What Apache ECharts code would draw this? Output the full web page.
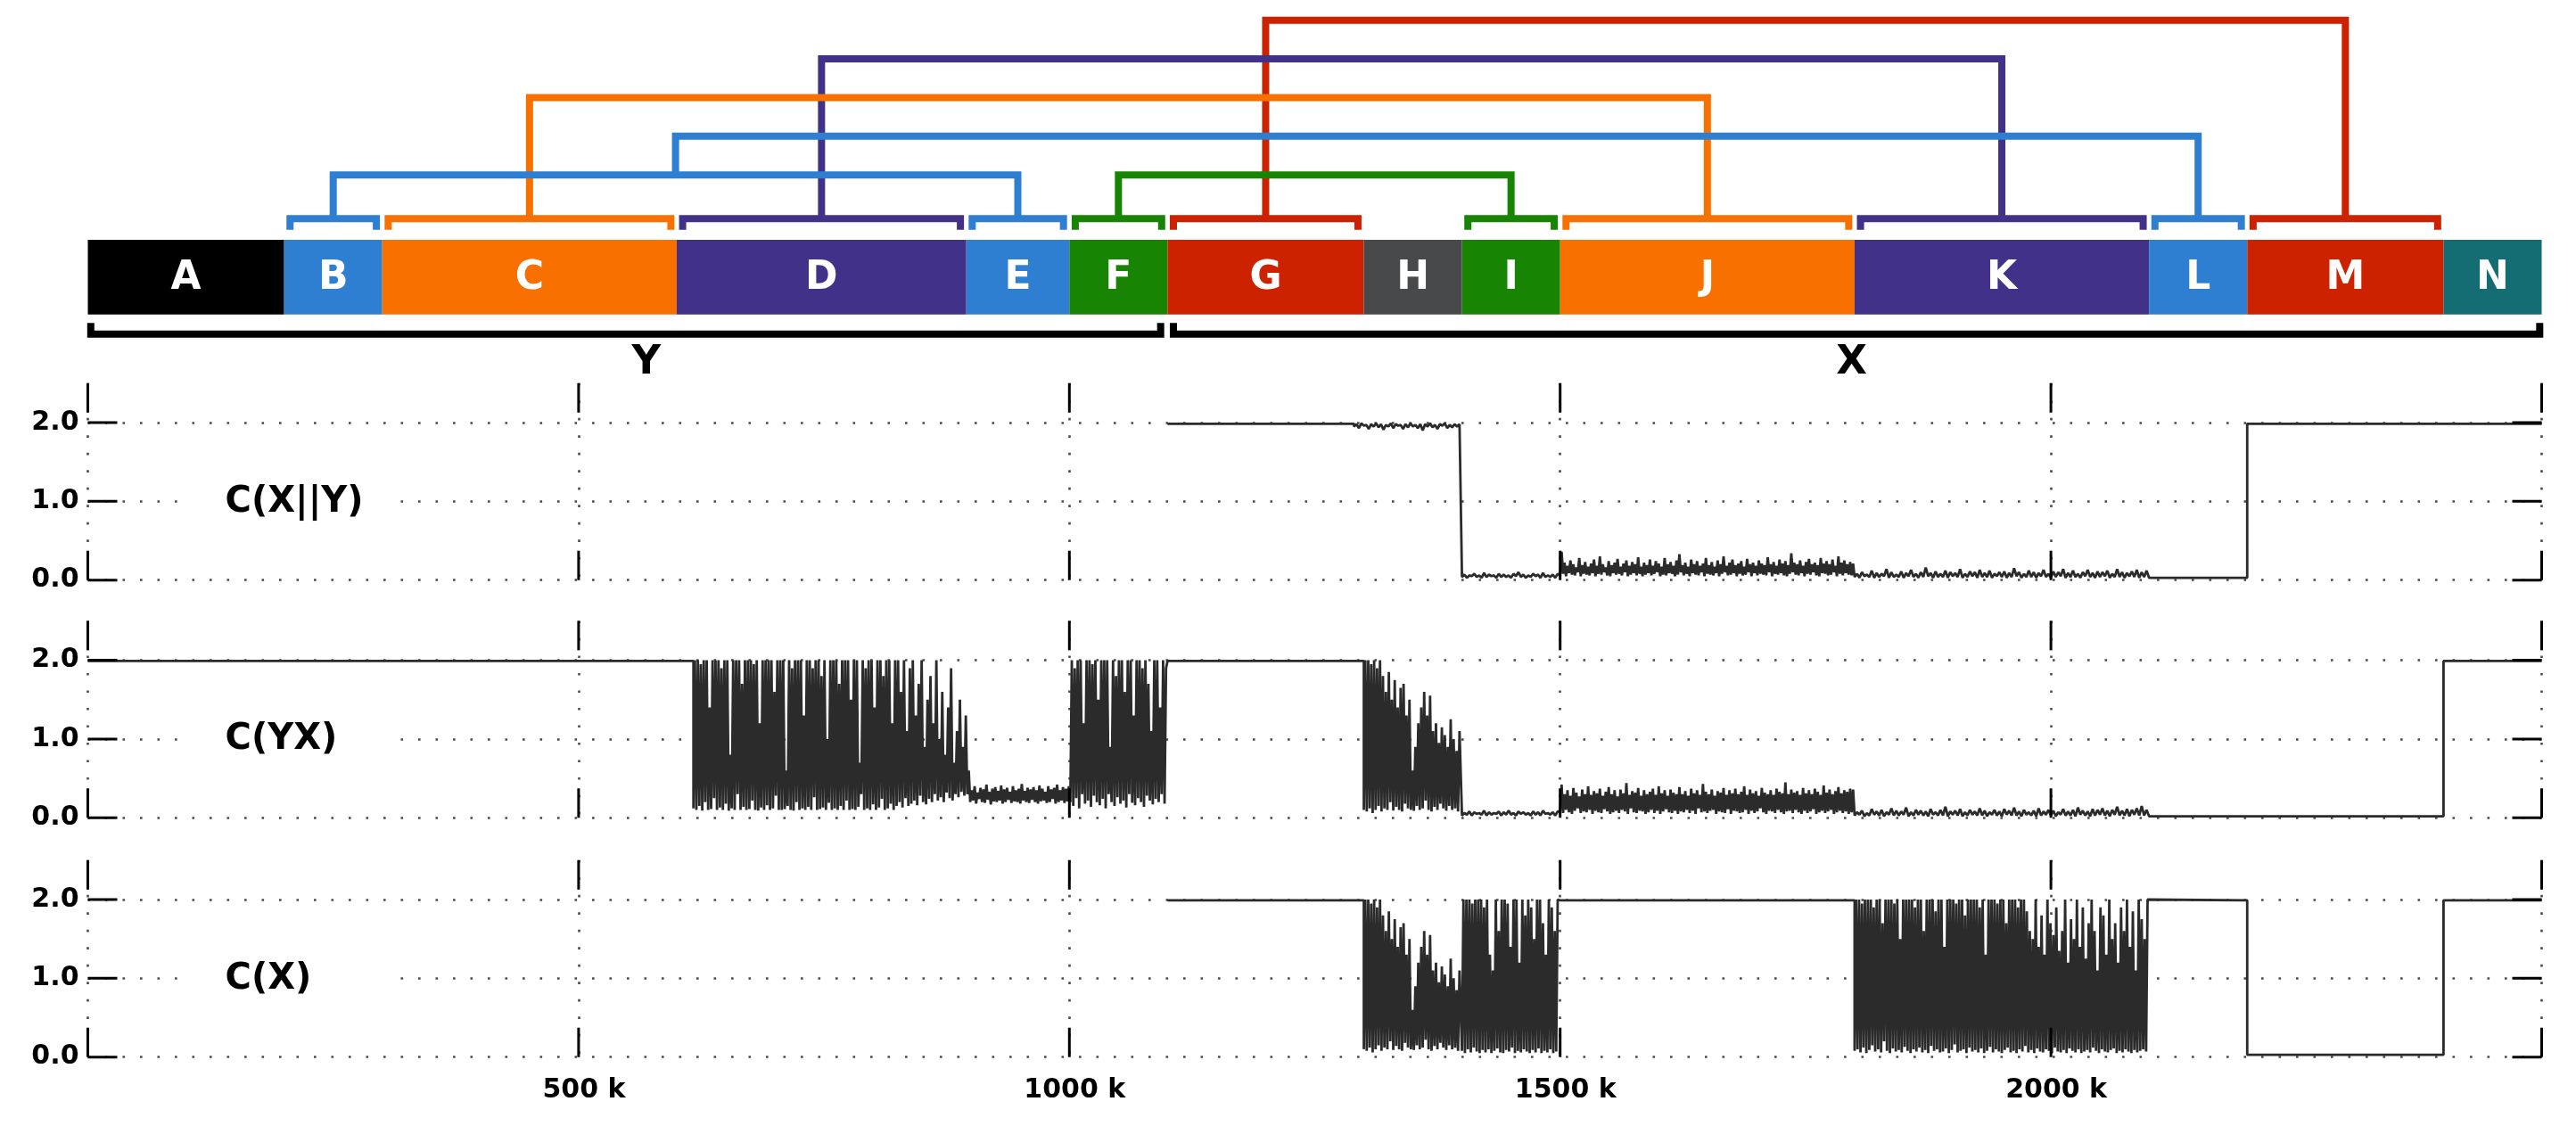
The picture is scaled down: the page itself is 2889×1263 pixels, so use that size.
<!DOCTYPE html>
<html><head><meta charset="utf-8">
<script src="https://cdn.jsdelivr.net/npm/echarts@6/dist/echarts.min.js"></script>
<style>html,body{margin:0;padding:0;background:#fff}#c{width:2889px;height:1263px}</style>
</head><body><div id="c"></div>
<script>
// ---------------- data ----------------
const xTicks = [0, 500, 1000, 1500, 2000, 2500];           // k
const yTicks = [0, 1, 2];
const segNames  = ['A','B','C','D','E','F','G','H','I','J','K','L','M','N'];
const segBounds = [0,200,300,600,895,1000,1100,1300,1400,1500,1800,2100,2200,2400,2500];
const segColors = ['#000000','#2e7fd2','#f87000','#413189','#2e7fd2','#178503','#cc2200',
                   '#48494b','#178503','#f87000','#413189','#2e7fd2','#cc2200','#136d73'];
const bracketed = ['B','C','D','E','F','G','I','J','K','L','M'];
// [left, right, level]
const links = [['B','E',1],['F','I',1],['BE','L',2],['C','J',3],['D','K',4],['G','M',5]];
const groupNames = ['Y','X'];
const groupSpans = [[3,1093],[1106,2498]];
const groupLabelAt = [569,1797];
const panelNames = ['C(X||Y)','C(YX)','C(X)'];

// C(X||Y)
const cxyG_hi = [1.98,1.99,1.97,1.98,1.99,1.98,1.97,1.99,1.98,1.97,1.98,1.99,1.97,1.98,1.98,1.99,1.97,1.98,1.99,1.97,1.98,1.98];
const cxyG_lo = [1.95,1.93,1.96,1.92,1.95,1.94,1.91,1.95,1.93,1.96,1.92,1.94,1.95,1.93,1.9,1.95,1.94,1.92,1.96,1.93,1.94,1.95];
const cxyI_hi = [0.07,0.06,0.08,0.06,0.09,0.07,0.06,0.08,0.07,0.06,0.08,0.1,0.07,0.06,0.08,0.07,0.09,0.06,0.07,0.08];
const cxyI_lo = [0.04,0.03,0.05,0.04,0.03,0.04,0.05,0.03,0.04,0.04,0.03,0.05,0.04,0.03,0.04,0.05,0.03,0.04,0.04,0.03];
const cxyJ_hi = [0.36,0.22,0.18,0.25,0.2,0.16,0.28,0.19,0.23,0.17,
  0.21,0.26,0.18,0.3,0.2,0.16,0.24,0.19,0.22,0.27,
  0.17,0.21,0.25,0.18,0.23,0.2,0.29,0.17,0.22,0.19,
  0.26,0.18,0.24,0.21,0.17,0.28,0.2,0.23,0.18,0.25,
  0.33,0.19,0.22,0.17,0.26,0.2,0.24,0.18,0.21,0.28,
  0.19,0.23,0.17,0.25,0.2,0.3,0.18,0.22,0.26,0.19,
  0.21,0.24,0.17,0.27,0.2,0.22,0.18,0.25,0.21,0.19,
  0.29,0.2,0.23,0.18,0.26,0.21,0.24,0.19,0.34,0.22,
  0.2,0.25,0.18,0.23,0.27,0.2,0.22,0.19,0.28,0.21,
  0.24,0.2,0.26,0.18,0.3,0.22,0.25,0.2,0.23,0.21];
const cxyJ_lo = [0.06,0.08,0.05,0.09,0.07,0.06,0.1,0.05,0.08,0.07,
  0.06,0.09,0.05,0.08,0.07,0.1,0.06,0.05,0.09,0.07,
  0.08,0.06,0.1,0.05,0.07,0.09,0.06,0.08,0.05,0.07,
  0.09,0.06,0.08,0.1,0.05,0.07,0.06,0.09,0.08,0.05,
  0.07,0.1,0.06,0.08,0.05,0.09,0.07,0.06,0.1,0.05,
  0.08,0.07,0.06,0.09,0.05,0.08,0.1,0.06,0.07,0.09,
  0.05,0.08,0.06,0.07,0.1,0.05,0.09,0.06,0.08,0.07,
  0.06,0.1,0.05,0.08,0.07,0.09,0.06,0.05,0.08,0.1,
  0.07,0.06,0.09,0.05,0.08,0.07,0.1,0.06,0.05,0.09,
  0.08,0.06,0.07,0.1,0.05,0.08,0.06,0.09,0.07,0.06];
const cxyK_hi = [0.08,0.1,0.07,0.12,0.09,0.08,0.14,0.1,0.07,0.11,
  0.09,0.13,0.08,0.1,0.16,0.09,0.11,0.08,0.12,0.1,
  0.09,0.14,0.08,0.11,0.1,0.13,0.09,0.12,0.08,0.1,
  0.11,0.09,0.15,0.1,0.08,0.12,0.1,0.09,0.13,0.08,
  0.11,0.1,0.14,0.09,0.12,0.08,0.1,0.13,0.09,0.11,
  0.1,0.12,0.08,0.14,0.1,0.09,0.11,0.13,0.1,0.12];
const cxyK_lo = [0.04,0.03,0.05,0.04,0.03,0.04,0.05,0.03,0.04,0.04,
  0.03,0.05,0.04,0.03,0.04,0.05,0.03,0.04,0.04,0.03,
  0.05,0.04,0.03,0.04,0.05,0.03,0.04,0.04,0.03,0.05,
  0.04,0.03,0.04,0.05,0.03,0.04,0.04,0.03,0.05,0.04,
  0.03,0.04,0.05,0.03,0.04,0.04,0.03,0.05,0.04,0.03,
  0.04,0.05,0.03,0.04,0.04,0.03,0.05,0.04,0.03,0.04];

// C(YX)
const cyxD_hi = [2,2,1.95,2,2,1.4,2,2,2,1.9,
  2,2,0.8,2,2,2,1.7,2,2,2,
  1.95,2,1.2,2,2,2,2,1.6,2,2,
  2,0.6,2,1.9,2,2,2,1.3,2,2,
  1.9,2,2,1.8,2,1,2,2,2,1.7,
  2,2,2,1.5,2,2,0.7,2,1.9,2,
  2,1.4,2,2,1.8,2,2,1.2,2,2,
  1.6,2,1.1,1.9,2,1.3,1.7,2,0.9,1.5,
  1.8,1.2,2,1,1.6,0.8,1.4,1.9,0.7,1.1,
  1.5,0.9,1.3,0.6];
const cyxD_lo = [0.12,0.1,0.15,0.09,0.2,0.1,0.11,0.25,0.1,0.13,
  0.1,0.18,0.09,0.12,0.1,0.3,0.1,0.14,0.1,0.11,
  0.22,0.1,0.09,0.13,0.1,0.16,0.1,0.12,0.28,0.1,
  0.1,0.11,0.15,0.1,0.09,0.2,0.1,0.12,0.1,0.14,
  0.1,0.26,0.1,0.11,0.13,0.1,0.19,0.1,0.12,0.1,
  0.15,0.1,0.22,0.1,0.11,0.1,0.14,0.3,0.1,0.12,
  0.1,0.17,0.1,0.13,0.24,0.1,0.12,0.18,0.1,0.15,
  0.2,0.13,0.25,0.15,0.18,0.22,0.16,0.28,0.2,0.17,
  0.24,0.2,0.3,0.22,0.26,0.2,0.32,0.25,0.22,0.3,
  0.26,0.33,0.28,0.3];
const cyxE_hi = [0.35,0.4,0.32,0.38,0.36,0.42,0.33,0.37,0.39,0.34,
  0.41,0.36,0.38,0.33,0.4,0.35,0.37,0.43,0.34,0.38,
  0.36,0.39,0.35,0.41,0.37,0.33,0.4,0.36,0.38,0.42,
  0.35,0.39,0.37,0.4];
const cyxE_lo = [0.2,0.22,0.18,0.24,0.2,0.19,0.23,0.17,0.21,0.2,
  0.22,0.18,0.2,0.23,0.19,0.21,0.2,0.18,0.22,0.2,
  0.19,0.23,0.2,0.18,0.21,0.22,0.19,0.2,0.24,0.18,
  0.2,0.22,0.19,0.21];
const cyxF_hi = [2,1.9,2,2,1.2,2,2,1.95,2,1.5, 2,2,2,0.9,2,1.8,2,2,1.6,2,
  2,1.3,2,2,1.9,2,1.7,1.1,2,2, 1.4,2,1.9];
const cyxF_lo = [0.2,0.15,0.25,0.12,0.3,0.18,0.22,0.14,0.28,0.2, 0.16,0.24,0.12,0.3,0.2,0.15,0.26,0.18,0.22,0.13,
  0.3,0.19,0.16,0.25,0.2,0.14,0.28,0.22,0.17,0.24, 0.2,0.3,0.18];
// shared shape of the 1300–1400 k stretch (C(YX) and C(X))
const xH_hi = [2,2,1.95,2,1.9,2,1.8,1.6,1.85,1.5, 1.75,1.4,1.65,1.7,1.3,1.5,0.6,0.9,1.2,1.4,
  1.6,1.3,1.55,1.1,1.2,0.95,1.15,1.05,0.9,1.25, 1.0,0.85,1.1];
const xH_lo = [0.1,0.08,0.12,0.06,0.1,0.15,0.08,0.12,0.1,0.2, 0.09,0.14,0.1,0.08,0.18,0.12,0.1,0.09,0.15,0.1,
  0.12,0.22,0.1,0.08,0.14,0.1,0.18,0.12,0.09,0.15, 0.1,0.12,0.08];
const cyxI_hi = [0.06,0.08,0.07,0.06,0.09,0.07,0.06,0.08,0.07,0.09,0.06,0.08,0.07,0.06,0.08,0.07,0.09,0.06,0.07,0.08];
const cyxI_lo = [0.03,0.04,0.03,0.05,0.04,0.03,0.04,0.05,0.03,0.04,0.04,0.03,0.05,0.04,0.03,0.04,0.03,0.05,0.04,0.03];
const cyxJ_hi = [0.42,0.3,0.35,0.28,0.38,0.32,0.27,0.36,0.3,0.4,
  0.29,0.34,0.31,0.37,0.28,0.33,0.39,0.3,0.35,0.27,
  0.36,0.31,0.44,0.29,0.34,0.32,0.38,0.28,0.35,0.3,
  0.33,0.37,0.29,0.4,0.31,0.35,0.28,0.36,0.32,0.3,
  0.39,0.3,0.34,0.28,0.37,0.31,0.35,0.29,0.43,0.33,
  0.3,0.36,0.28,0.34,0.32,0.38,0.29,0.35,0.31,0.37,
  0.3,0.33,0.4,0.29,0.36,0.31,0.34,0.28,0.38,0.32,
  0.3,0.35,0.29,0.37,0.33,0.31,0.45,0.3,0.36,0.32,
  0.34,0.29,0.38,0.31,0.35,0.3,0.37,0.33,0.29,0.41,
  0.32,0.36,0.3,0.34,0.39,0.31,0.35,0.33,0.37,0.36];
const cyxJ_lo = [0.08,0.06,0.1,0.07,0.05,0.09,0.12,0.06,0.08,0.07,
  0.1,0.05,0.09,0.07,0.06,0.11,0.08,0.05,0.07,0.09,
  0.06,0.1,0.08,0.05,0.12,0.07,0.06,0.09,0.08,0.05,
  0.07,0.1,0.06,0.09,0.05,0.08,0.11,0.07,0.06,0.09,
  0.05,0.08,0.07,0.1,0.06,0.09,0.05,0.12,0.07,0.08,
  0.06,0.09,0.1,0.05,0.08,0.07,0.06,0.11,0.05,0.09,
  0.08,0.06,0.07,0.1,0.05,0.09,0.06,0.08,0.12,0.07,
  0.05,0.09,0.08,0.06,0.1,0.07,0.05,0.08,0.09,0.06,
  0.1,0.07,0.05,0.09,0.06,0.08,0.11,0.05,0.07,0.09,
  0.06,0.08,0.1,0.05,0.07,0.09,0.06,0.08,0.05,0.07];
const cyxK_hi = [0.07,0.09,0.06,0.11,0.08,0.1,0.07,0.12,0.09,0.08,
  0.13,0.07,0.1,0.09,0.08,0.11,0.07,0.1,0.14,0.08,
  0.09,0.11,0.07,0.1,0.08,0.12,0.09,0.07,0.1,0.08,
  0.11,0.09,0.13,0.08,0.1,0.07,0.09,0.12,0.08,0.1,
  0.09,0.07,0.11,0.08,0.1,0.13,0.09,0.08,0.11,0.1,
  0.12,0.09,0.1,0.14,0.09,0.11,0.1,0.12,0.15,0.1];
const cyxK_lo = [0.03,0.04,0.02,0.03,0.04,0.03,0.02,0.04,0.03,0.03,
  0.04,0.02,0.03,0.04,0.03,0.02,0.04,0.03,0.03,0.02,
  0.04,0.03,0.02,0.03,0.04,0.03,0.03,0.02,0.04,0.03,
  0.02,0.04,0.03,0.03,0.02,0.04,0.03,0.02,0.03,0.04,
  0.03,0.02,0.04,0.03,0.03,0.02,0.04,0.03,0.02,0.03,
  0.04,0.03,0.02,0.04,0.03,0.03,0.02,0.04,0.03,0.03];

// C(X)
const cxI_hi = [2,2,2,1.95,2,2,2,1.9,2,1.3, 1.1,2,1.6,2,2,1.95,1.4,2,2,1.2,
  2,1.8,2,1.9,1.5,2,2,1.7,1.3,2, 1.9,1.6,2];
const cxI_lo = [0.08,0.05,0.1,0.06,0.12,0.07,0.05,0.09,0.06,0.1, 0.05,0.08,0.11,0.06,0.05,0.09,0.07,0.12,0.05,0.08,
  0.06,0.1,0.07,0.05,0.09,0.06,0.11,0.05,0.08,0.06, 0.1,0.05,0.07];
const cxK_hi = [2,2,1.95,2,2,2,1.9,2,2,1.7,
  2,2,2,1.95,2,1.5,2,2,2,2,
  1.9,2,2,1.6,2,2,2,1.85,2,2,
  1.4,2,2,2,1.95,2,2,1.8,2,2,
  2,2,1.9,2,1.3,2,2,2,1.95,2,
  2,1.7,2,2,2,1.9,2,2,1.85,1.6,
  1.5,2,1.4,1.8,1.3,2,1.7,1.55,1.9,1.35,
  1.6,2,1.2,1.75,1.5,2,1.4,1.9,1.25,1.7,
  2,1.6,1.1,1.9,1.8,1.3,2,1.5,1.7,1.2,
  1.9,1.6,2,1.4,1.85,1.1,2,1.75,1.5,2];
const cxK_lo = [0.08,0.1,0.06,0.12,0.05,0.09,0.15,0.07,0.1,0.06,
  0.2,0.08,0.05,0.11,0.07,0.09,0.06,0.13,0.08,0.05,
  0.1,0.07,0.12,0.06,0.09,0.05,0.14,0.08,0.1,0.06,
  0.07,0.11,0.05,0.09,0.16,0.06,0.08,0.1,0.05,0.12,
  0.07,0.09,0.06,0.11,0.05,0.08,0.13,0.06,0.1,0.07,
  0.05,0.09,0.12,0.06,0.08,0.05,0.1,0.07,0.14,0.06,
  0.09,0.05,0.11,0.07,0.06,0.1,0.08,0.05,0.12,0.07,
  0.06,0.09,0.05,0.11,0.08,0.06,0.1,0.05,0.07,0.09,
  0.06,0.12,0.08,0.05,0.1,0.07,0.06,0.09,0.11,0.05,
  0.08,0.06,0.1,0.07,0.05,0.09,0.06,0.08,0.1,0.07];

// pieces: ['flat', x0, x1, y] or ['noise', x0, step, peaks, troughs]
const CXY = [['flat',1100,1290,1.985],['noise',1290,5,cxyG_hi,cxyG_lo],['noise',1400,5,cxyI_hi,cxyI_lo],
  ['noise',1500,3,cxyJ_hi,cxyJ_lo],['noise',1800,5,cxyK_hi,cxyK_lo],['flat',2100,2200,0.03],['flat',2200,2500,1.985]];
const CYX = [['flat',0,617,1.99],['noise',617,3,cyxD_hi,cyxD_lo],['noise',899,3,cyxE_hi,cyxE_lo],
  ['noise',1001,3,cyxF_hi,cyxF_lo],['flat',1100,1300,1.99],['noise',1300,3,xH_hi,xH_lo],
  ['noise',1400,5,cyxI_hi,cyxI_lo],['noise',1500,3,cyxJ_hi,cyxJ_lo],['noise',1800,5,cyxK_hi,cyxK_lo],
  ['flat',2100,2400,0.02],['flat',2400,2500,1.99]];
const CX = [['flat',1100,1300,1.99],['noise',1300,3,xH_hi,xH_lo],['noise',1400,3,cxI_hi,cxI_lo],
  ['flat',1500,1800,1.99],['noise',1800,3,cxK_hi,cxK_lo],['flat',2100,2200,1.99],
  ['flat',2200,2400,0.03],['flat',2400,2500,1.99]];

// ---------------- layout / style ----------------
const FONT = '"DejaVu Sans", "Liberation Sans", sans-serif';
const GL = 98.5, GR = 38.5;
const panelTops = [429.8, 696.4, 964.8];
const PANEL_H = 220.9;
const X_MAX = 2500, Y_MAX = 2.5;
// level positions in the top (dendrogram) coordinate system
const BR_LINE = -0.13, BR_LEG = -0.42, BAR_TOP = -0.68, BAR_BOT = -2.61,
      GR_LEG = -2.83, GR_LINE = -3.12, GR_LABEL = -3.87, BR_INSET = 6;
const LW = 8, TICK_LEN = 33, TICK_W = 3;

function build(pieces) {
  const out = [];
  for (const p of pieces) {
    if (p[0] === 'flat') { out.push([p[1], p[3]], [p[2], p[3]]); }
    else {
      const x0 = p[1], step = p[2], hi = p[3], lo = p[4];
      for (let i = 0; i < hi.length; i++) {
        out.push([x0 + i * step, lo[i]], [x0 + (i + 0.5) * step, hi[i]]);
      }
    }
  }
  return out;
}

const segCenter = n => { const i = segNames.indexOf(n); return (segBounds[i] + segBounds[i + 1]) / 2; };
const nodes = {};
segNames.forEach(n => nodes[n] = { x: segCenter(n), y: BR_LINE, color: segColors[segNames.indexOf(n)] });
const linkShapes = [];
links.slice().sort((a, b) => a[2] - b[2]).forEach(([l, r, lev]) => {
  const L = nodes[l], R = nodes[r];
  linkShapes.push({ pts: [[L.x, L.y], [L.x, lev], [R.x, lev], [R.x, R.y]], color: L.color, lev });
  nodes[l + r] = { x: (L.x + R.x) / 2, y: lev, color: L.color };
});
linkShapes.sort((a, b) => b.lev - a.lev);

const dotted = { color: '#4a4a4a', width: 2.6, type: [2.6, 16.9] };

const grids = [{ left: GL, right: GR, top: 1, height: 412 }];
const xAxes = [{ gridIndex: 0, type: 'value', min: 0, max: X_MAX, show: false }];
const yAxes = [{ gridIndex: 0, type: 'value', min: -4, max: 5.5, show: false }];
panelTops.forEach((t, p) => {
  const gi = p + 1;
  grids.push({ left: GL, right: GR, top: t, height: PANEL_H });
  xAxes.push({ gridIndex: gi, type: 'value', min: 0, max: X_MAX, interval: 500, position: 'bottom',
    axisLine: { show: false }, axisTick: { show: false },
    axisLabel: { show: p === 2, margin: 23, padding: [0, 0, 0, 12], color: '#000', fontFamily: FONT,
      fontWeight: 'bold', fontSize: 30,
      formatter: v => (v === 0 || v === X_MAX) ? '' : v + ' k' },
    splitLine: { show: true, lineStyle: dotted } });
  yAxes.push({ gridIndex: gi, type: 'value', min: 0, max: Y_MAX, interval: 1, position: 'left',
    axisLine: { show: false }, axisTick: { show: false },
    axisLabel: { margin: 10, color: '#000', fontFamily: FONT, fontWeight: 'bold', fontSize: 30,
      formatter: v => yTicks.indexOf(v) < 0 ? '' : v.toFixed(1) },
    splitLine: { show: true, showMaxLine: false, lineStyle: dotted } });
});

const series = [];
// colored segment bar
series.push({
  type: 'custom', xAxisIndex: 0, yAxisIndex: 0, silent: true, z: 2,
  data: segNames.map((n, i) => [segBounds[i], segBounds[i + 1], i]),
  renderItem: (params, api) => {
    const i = api.value(2);
    const p0 = api.coord([api.value(0), BAR_TOP]), p1 = api.coord([api.value(1), BAR_BOT]);
    const pc = api.coord([(api.value(0) + api.value(1)) / 2, (BAR_TOP + BAR_BOT) / 2]);
    return { type: 'group', children: [
      { type: 'rect', shape: { x: p0[0], y: p0[1], width: p1[0] - p0[0], height: p1[1] - p0[1] }, style: { fill: segColors[i] } },
      { type: 'text', x: pc[0], y: pc[1] + 2, style: { text: segNames[i], fill: '#fff', font: 'bold 44px ' + FONT, align: 'center', verticalAlign: 'middle' } }
    ] };
  }
});
// brackets over segments
series.push({
  type: 'custom', xAxisIndex: 0, yAxisIndex: 0, silent: true, z: 3,
  data: bracketed.map(n => [segBounds[segNames.indexOf(n)], segBounds[segNames.indexOf(n) + 1], segNames.indexOf(n)]),
  renderItem: (params, api) => {
    const a = api.value(0) + BR_INSET, b = api.value(1) - BR_INSET;
    const pts = [[a, BR_LEG], [a, BR_LINE], [b, BR_LINE], [b, BR_LEG]].map(q => api.coord(q));
    return { type: 'polyline', shape: { points: pts }, style: { stroke: segColors[api.value(2)], lineWidth: LW, fill: null, lineJoin: 'miter', lineCap: 'butt' } };
  }
});
// dendrogram links
series.push({
  type: 'custom', xAxisIndex: 0, yAxisIndex: 0, silent: true, z: 3,
  data: linkShapes.map((s, i) => [s.pts[1][0], s.lev, i]),
  renderItem: (params, api) => {
    const s = linkShapes[api.value(2)];
    return { type: 'polyline', shape: { points: s.pts.map(q => api.coord(q)) }, style: { stroke: s.color, lineWidth: LW, fill: null, lineJoin: 'miter', lineCap: 'butt' } };
  }
});
// Y / X group brackets
series.push({
  type: 'custom', xAxisIndex: 0, yAxisIndex: 0, silent: true, z: 3,
  data: groupSpans.map((s, i) => [s[0], s[1], i]),
  renderItem: (params, api) => {
    const i = api.value(2), a = api.value(0), b = api.value(1);
    const pts = [[a, GR_LEG], [a, GR_LINE], [b, GR_LINE], [b, GR_LEG]].map(q => api.coord(q));
    const pl = api.coord([groupLabelAt[i], GR_LABEL]);
    return { type: 'group', children: [
      { type: 'polyline', shape: { points: pts }, style: { stroke: '#000', lineWidth: LW, fill: null, lineJoin: 'miter', lineCap: 'butt' } },
      { type: 'text', x: pl[0], y: pl[1], style: { text: groupNames[i], fill: '#000', font: 'bold 45px ' + FONT, align: 'center', verticalAlign: 'middle' } }
    ] };
  }
});
// panels
[CXY, CYX, CX].forEach((pieces, p) => {
  const ax = p + 1;
  series.push({ type: 'line', xAxisIndex: ax, yAxisIndex: ax, data: build(pieces), showSymbol: false, symbol: 'none',
    lineStyle: { color: '#2b2b2b', width: 2.8 }, silent: true, z: 3, animation: false });
  // inward tick marks on all four sides
  series.push({ type: 'custom', xAxisIndex: ax, yAxisIndex: ax, silent: true, z: 4, clip: false, data: [[0, 0]],
    renderItem: (params, api) => {
      const st = { stroke: '#000', lineWidth: TICK_W };
      const ch = [];
      xTicks.forEach(v => {
        const b = api.coord([v, 0]), t = api.coord([v, Y_MAX]);
        ch.push({ type: 'line', shape: { x1: b[0], y1: b[1], x2: b[0], y2: b[1] - TICK_LEN }, style: st });
        ch.push({ type: 'line', shape: { x1: t[0], y1: t[1], x2: t[0], y2: t[1] + TICK_LEN }, style: st });
      });
      yTicks.forEach(v => {
        const l = api.coord([0, v]), r = api.coord([X_MAX, v]);
        ch.push({ type: 'line', shape: { x1: l[0], y1: l[1], x2: l[0] + TICK_LEN, y2: l[1] }, style: st });
        ch.push({ type: 'line', shape: { x1: r[0], y1: r[1], x2: r[0] - TICK_LEN, y2: r[1] }, style: st });
      });
      return { type: 'group', children: ch };
    } });
  series.push({ type: 'custom', xAxisIndex: ax, yAxisIndex: ax, silent: true, z: 5, data: [[140, 1]],
    renderItem: (params, api) => {
      const c = api.coord([api.value(0), api.value(1)]);
      return { type: 'group', children: [
        { type: 'rect', shape: { x: c[0] - 48, y: c[1] - 24, width: 243, height: 48 }, style: { fill: '#fff' } },
        { type: 'text', x: c[0], y: c[1] + 1, style: { text: panelNames[p], fill: '#000', font: 'bold 40px ' + FONT, align: 'left', verticalAlign: 'middle' } }
      ] };
    } });
});

const chart = echarts.init(document.getElementById('c'), null, { renderer: 'canvas' });
chart.setOption({ backgroundColor: '#fff', animation: false, textStyle: { fontFamily: FONT },
  grid: grids, xAxis: xAxes, yAxis: yAxes, series });
</script></body></html>
